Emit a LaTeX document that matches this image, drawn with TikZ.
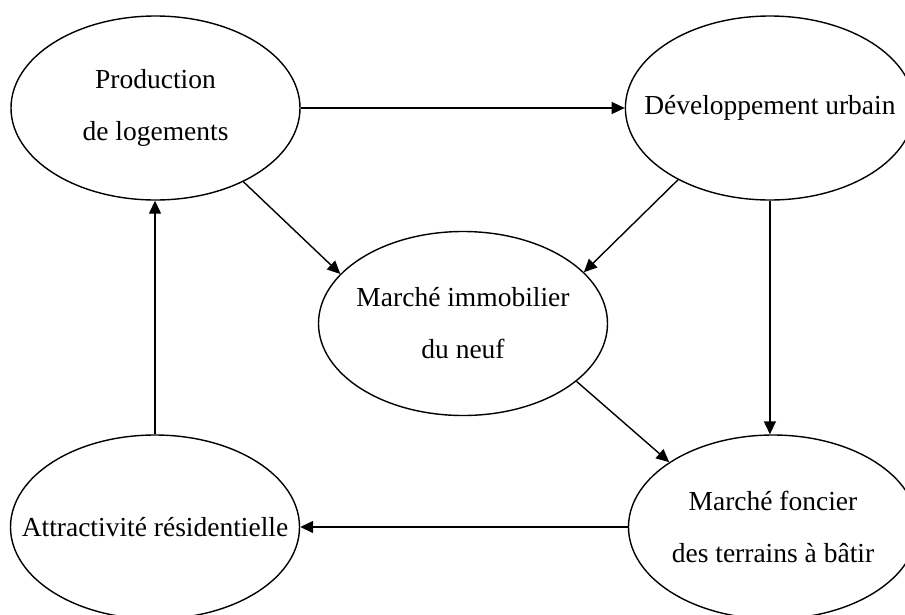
\documentclass[tikz,border=0pt]{standalone}
\usepackage{fontspec}
\setmainfont{Liberation Serif}
\usepackage{tikz}
\usetikzlibrary{
  arrows.meta,
  shapes.geometric,
  positioning
}
\tikzset{
  loopnode/.style={
    draw, ellipse, line width=1.4pt, inner xsep=-40pt, inner ysep=0pt,
    minimum width=289pt, minimum height=184pt,
    align=center, font=\fontsize{27.5}{52}\selectfont
  },
  flow/.style={-{Triangle[length=13pt, width=12pt]}, line width=1.4pt}
}

\begin{document}
\begin{tikzpicture}[x=1pt, y=-1pt, node distance=324pt]
  \useasboundingbox (0,0) rectangle (905,614);
  \node[loopnode] (prod) at (155.5,108) {Production\\de logements};
  \node[loopnode, right=of prod] (dev) {Développement urbain};
  \node[loopnode] (neuf) at (463,323.5) {Marché immobilier\\du neuf};
  \node[loopnode] (foncier) at (773,527) {Marché foncier\\des terrains à bâtir};
  \node[loopnode] (attract) at (155,527) {Attractivité résidentielle};
  \draw[flow] (prod) -- (dev);
  \draw[flow] (prod.-40) -- (neuf.158);
  \draw[flow] (dev.-142) -- (neuf.23);
  \draw[flow] (dev.south) -- (dev.south |- foncier.north);
  \draw[flow] (neuf.-27) -- (foncier.148);
  \draw[flow] (foncier) -- (attract);
  \draw[flow] (attract.north) -- (attract.north |- prod.south);
\end{tikzpicture}
\end{document}
